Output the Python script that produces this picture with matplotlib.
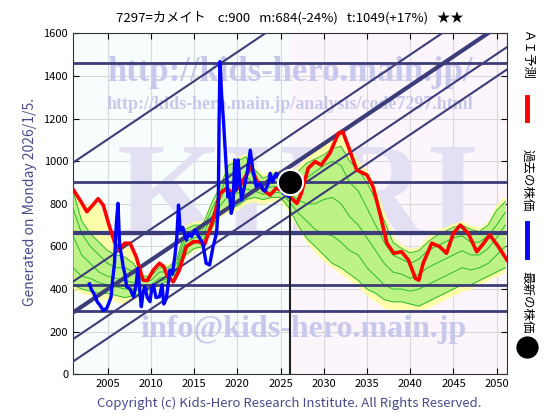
import numpy as np
import matplotlib
matplotlib.use("Agg")
import matplotlib.pyplot as plt

plt.rcParams['font.family'] = ['Noto Sans CJK JP', 'DejaVu Sans']

# past prices (blue)
blue_x = [2002.9, 2003.1, 2003.5, 2003.8, 2004.1, 2004.5, 2004.9, 2005.2, 2005.4, 2005.6,
          2005.8, 2006.0, 2006.2, 2006.4, 2006.6, 2006.8, 2007.0, 2007.2, 2007.6, 2008.0,
          2008.3, 2008.5, 2008.7, 2008.9, 2009.1, 2009.3, 2009.6, 2009.9, 2010.1, 2010.3,
          2010.6, 2011.0, 2011.3, 2011.5, 2011.8, 2012.0, 2012.2, 2012.5, 2012.8, 2013.0,
          2013.2, 2013.4, 2013.7, 2014.1, 2014.4, 2014.7, 2015.1, 2015.5, 2016.0, 2016.4,
          2016.8, 2017.2, 2017.6, 2017.8, 2017.9, 2018.0, 2018.2, 2018.4, 2018.6, 2018.8,
          2018.9, 2019.1, 2019.3, 2019.5, 2019.7, 2019.9, 2020.1, 2020.3, 2020.5, 2020.9,
          2021.2, 2021.5, 2021.8, 2022.2, 2022.6, 2023.0, 2023.2, 2023.6, 2023.8, 2024.1,
          2024.5, 2024.7, 2024.9, 2025.3, 2025.7, 2025.9, 2026.1]
blue_y = [424, 400, 372, 340, 325, 300, 310, 340, 364, 450,
          522, 700, 802, 599, 560, 505, 470, 411, 400, 364,
          420, 497, 400, 317, 380, 411, 360, 341, 400, 419,
          360, 364, 420, 330, 357, 420, 489, 470, 560, 640,
          794, 677, 690, 630, 660, 646, 677, 650, 615, 521,
          513, 599, 662, 786, 1200, 1467, 1303, 1193, 1052, 920,
          833, 850, 755, 786, 1006, 865, 1006, 900, 818, 896,
          960, 1052, 959, 880, 896, 865, 860, 896, 943, 904,
          943, 927, 896, 849, 865, 833, 900]

# AI forecast (red)
red_x = [2001.0, 2001.8, 2002.6, 2003.2, 2003.9, 2004.5, 2005.1, 2005.8, 2006.3, 2007.0,
         2007.6, 2008.3, 2009.1, 2009.6, 2010.3, 2011.0, 2011.5, 2011.9, 2012.6, 2013.3,
         2014.1, 2014.9, 2015.6, 2016.2, 2017.2, 2018.0, 2018.8, 2019.5, 2020.5, 2021.6,
         2022.2, 2023.0, 2023.8, 2024.5, 2025.3, 2026.1, 2026.9, 2027.4, 2028.2, 2029.0,
         2029.7, 2030.7, 2031.7, 2032.2, 2033.0, 2033.8, 2035.0, 2035.7, 2036.5, 2037.3,
         2038.1, 2039.0, 2039.8, 2040.6, 2041.0, 2041.5, 2042.5, 2043.4, 2044.2, 2045.0,
         2045.8, 2046.7, 2047.7, 2048.4, 2049.2, 2050.2, 2051.2]
red_y = [868, 818, 763, 790, 824, 794, 709, 620, 585, 615,
         615, 552, 442, 440, 490, 521, 505, 462, 434, 489,
         599, 622, 622, 607, 724, 849, 873, 849, 896, 974,
         912, 865, 841, 873, 860, 833, 802, 849, 967, 998,
         982, 1037, 1131, 1138, 1052, 959, 935, 880, 755, 615,
         568, 575, 536, 450, 442, 521, 615, 599, 568, 662,
         700, 662, 575, 610, 654, 599, 536]

# scenario fan (yearly)
fan_years = list(range(2001, 2052))
yel_hi = [868, 790, 800, 800, 700, 620, 615, 570, 470, 470, 520, 520, 560, 700, 720, 720, 820,
          900, 1000, 1020, 1040, 980, 940, 960, 960, 940, 980, 1020, 1060, 1080, 1120, 1140,
          1070, 1000, 960, 880, 760, 650, 610, 590, 600, 650, 680, 690, 710, 720, 700, 690,
          720, 800, 840]
grn_hi = [860, 720, 660, 620, 580, 560, 550, 520, 460, 460, 500, 500, 540, 680, 700, 700, 800,
          880, 980, 1000, 1020, 960, 920, 940, 940, 920, 950, 990, 1010, 1030, 1060, 1070,
          1000, 960, 900, 820, 720, 620, 590, 570, 580, 620, 650, 670, 690, 700, 680, 670,
          700, 770, 810]
grn_mid1 = [780, 660, 600, 560, 520, 500, 500, 480, 440, 440, 480, 480, 520, 650, 670, 680, 770,
            850, 940, 950, 980, 920, 890, 900, 900, 880, 900, 920, 950, 980, 1000, 980,
            900, 860, 780, 700, 620, 560, 540, 520, 540, 580, 600, 620, 640, 650, 620, 620,
            650, 700, 760]
grn_mid2 = [650, 560, 520, 480, 460, 450, 440, 430, 410, 420, 450, 460, 500, 620, 640, 650, 740,
            820, 900, 900, 930, 890, 870, 880, 880, 850, 820, 800, 800, 820, 830, 800,
            740, 700, 640, 580, 520, 480, 470, 450, 470, 500, 520, 540, 560, 580, 560, 560,
            590, 640, 700]
grn_mid3 = [500, 460, 450, 430, 420, 410, 400, 400, 395, 410, 435, 450, 490, 590, 615, 625, 710,
            790, 840, 850, 870, 860, 845, 850, 855, 810, 760, 720, 680, 660, 650, 620,
            580, 560, 500, 460, 420, 400, 400, 390, 400, 420, 440, 460, 480, 500, 490, 500,
            520, 560, 600]
grn_lo = [420, 400, 390, 380, 380, 370, 360, 370, 380, 400, 420, 440, 480, 560, 590, 600, 680,
          760, 780, 790, 820, 830, 820, 830, 830, 780, 700, 640, 600, 560, 520, 500,
          470, 440, 400, 380, 350, 340, 340, 330, 320, 340, 360, 380, 400, 420, 420, 440,
          460, 480, 500]
yel_lo = [400, 380, 370, 350, 350, 340, 330, 350, 370, 390, 410, 430, 470, 550, 580, 590, 670,
          740, 760, 770, 800, 810, 800, 810, 810, 760, 680, 620, 570, 530, 500, 470,
          440, 410, 370, 340, 310, 295, 300, 300, 300, 310, 330, 350, 370, 390, 400, 420,
          440, 460, 480]

# support / resistance levels and trend channel
h_levels = [1460, 900, 665, 420, 297]
h_widths = [2.0, 2.0, 3.0, 2.0, 2.0]
trend_start = [993, 435, 290, 165, 60]
trend_widths = [1.5, 1.5, 3.0, 1.5, 1.5]
trend_slope = 27.3

now_year = 2026.1
now_price = 900

line_col = '#3c3c78'
text_col = '#4a4a8a'
wm_col = '#c8c8ec'

fig = plt.figure(figsize=(5.6, 4.2), dpi=100)
ax = fig.add_axes([0.1304, 0.1088, 0.775, 0.8119])
x0, x1 = 2001.0, 2051.2
ax.set_xlim(x0, x1)
ax.set_ylim(0, 1600)
ax.set_facecolor('#f7fcfc')
ax.axvspan(now_year, x1, color='#fcf5fc', zorder=0)

ax.set_xticks(range(2005, 2051, 5))
ax.set_yticks(range(0, 1601, 200))
ax.grid(True, color='#d8d8d8', lw=0.8, zorder=1)
ax.tick_params(direction='in', top=True, right=True, labelsize=8, length=4)
for s in ax.spines.values():
    s.set_color('#333333')

# watermarks
ax.text(0.5, 0.885, 'http://kids-hero.main.jp/', transform=ax.transAxes, ha='center',
        va='center', fontsize=25, family='Liberation Serif', weight='bold', color=wm_col, zorder=2)
ax.text(0.5, 0.79, 'http://kids-hero.main.jp/analysis/code7297.html', transform=ax.transAxes,
        ha='center', va='center', fontsize=13, family='Liberation Serif', weight='bold',
        color=wm_col, zorder=2)
ax.text(0.52, 0.5, 'KHRI', transform=ax.transAxes, ha='center', va='center', fontsize=98,
        family='Liberation Serif', weight='bold', color='#e4e0f4', zorder=2)
ax.text(0.53, 0.13, 'info@kids-hero.main.jp', transform=ax.transAxes, ha='center',
        va='center', fontsize=23, family='Liberation Serif', weight='bold', color=wm_col, zorder=2)

# fan
ax.fill_between(fan_years, yel_lo, yel_hi, color='#ffff9c', alpha=0.85, lw=0, zorder=3)
ax.fill_between(fan_years, grn_lo, grn_hi, color='#a8f07a', alpha=0.75, lw=0, zorder=3)
for g in [grn_hi, grn_mid1, grn_mid2, grn_mid3, grn_lo]:
    ax.plot(fan_years, g, color='#2cb82c', lw=0.7, zorder=4)

for lvl, w in zip(h_levels, h_widths):
    ax.axhline(lvl, color=line_col, lw=w, zorder=5)
for b, w in zip(trend_start, trend_widths):
    ax.plot([x0, x1], [b, b + trend_slope * (x1 - x0)], color=line_col, lw=w, zorder=5)

ax.plot(red_x, red_y, color='#ff0000', lw=2.6, solid_joinstyle='round', zorder=6)
ax.plot(blue_x, blue_y, color='#0000ff', lw=2.4, solid_joinstyle='round', zorder=7)

ax.plot([now_year, now_year], [0, now_price], color='#222222', lw=1.5, zorder=7)
ax.scatter([now_year], [now_price], s=330, color='black', edgecolor='white', lw=1.5, zorder=8)

fig.text(0.518, 0.957, '7297=カメイト    c:900   m:684(-24%)   t:1049(+17%)   ★★',
         ha='center', va='center', fontsize=9.5)
fig.text(0.054, 0.52, 'Generated on Monday 2026/1/5.', rotation=90, ha='center',
         va='center', fontsize=10, color=text_col)
fig.text(0.516, 0.04, 'Copyright (c) Kids-Hero Research Institute. All Rights Reserved.',
         ha='center', va='center', fontsize=9.5, color=text_col)

# legend on the right
lx = 0.941
fig.text(lx, 0.87, 'ＡＩ予測', rotation=270, ha='center', va='center', fontsize=9)
fig.add_artist(plt.Line2D([lx, lx], [1 - 120 / 420, 1 - 97 / 420], color='#ff0000', lw=3.5))
fig.text(lx, 0.57, '過去の株価', rotation=270, ha='center', va='center', fontsize=9)
fig.add_artist(plt.Line2D([lx, lx], [1 - 257 / 420, 1 - 223 / 420], color='#0000ff', lw=3.5))
fig.text(lx, 0.28, '最新の株価', rotation=270, ha='center', va='center', fontsize=9)
fig.add_artist(plt.Line2D([lx], [1 - 347 / 420], marker='o', markersize=15, color='black'))

fig.savefig('out.png', dpi=100)
